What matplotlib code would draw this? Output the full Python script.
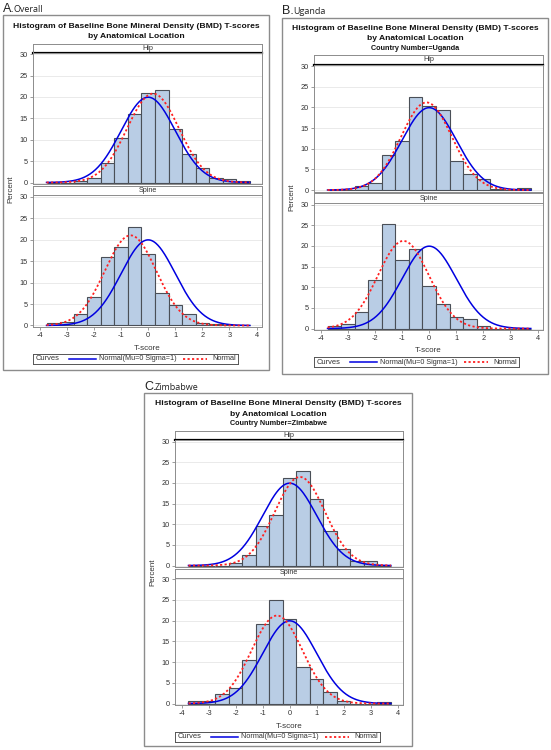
import numpy as np
import matplotlib
matplotlib.use("Agg")
import matplotlib.pyplot as plt
from matplotlib.patches import Rectangle

plt.rcParams['font.family'] = ['Liberation Sans', 'DejaVu Sans']
plt.rcParams['axes.unicode_minus'] = False

# ---------------- data ----------------
bin_centers = [-3.5, -3.0, -2.5, -2.0, -1.5, -1.0, -0.5, 0.0, 0.5, 1.0, 1.5, 2.0, 2.5, 3.0, 3.5]
bin_width = 0.5
x_ticks = [-4, -3, -2, -1, 0, 1, 2, 3, 4]
y_ticks = [0, 5, 10, 15, 20, 25, 30]

overall_hip = [0, 0, 0.3, 1.0, 4.5, 10.3, 16.0, 20.9, 21.7, 12.6, 6.6, 3.4, 1.0, 0.8, 0.3]
overall_spine = [0.5, 0.8, 2.7, 6.6, 15.9, 18.2, 22.9, 16.6, 7.6, 4.7, 2.6, 0.6, 0.3, 0.1, 0.2]
uganda_hip = [0, 0, 1.1, 1.8, 8.5, 11.8, 22.5, 20.4, 19.3, 7.0, 3.8, 2.7, 0.3, 0, 0.6]
uganda_spine = [0.6, 1.2, 3.9, 11.8, 25.3, 16.7, 19.3, 10.3, 6.0, 2.7, 2.2, 0.7, 0, 0, 0]
zimbabwe_hip = [0, 0, 0, 0.6, 2.6, 9.6, 12.3, 21.1, 23.0, 16.0, 8.4, 4.1, 1.2, 1.2, 0]
zimbabwe_spine = [0.6, 0.5, 2.2, 3.7, 10.5, 19.1, 24.9, 20.3, 8.7, 6.0, 2.9, 0.5, 0, 0, 0.3]

# fitted normal (mu, sigma) for the red dashed curve
overall_hip_fit = (0.18, 0.96)
overall_spine_fit = (-0.65, 0.95)
uganda_hip_fit = (-0.10, 0.94)
uganda_spine_fit = (-0.95, 0.94)
zimbabwe_hip_fit = (0.38, 0.93)
zimbabwe_spine_fit = (-0.47, 0.94)
reference_fit = (0.0, 1.0)

title_line1 = "Histogram of Baseline Bone Mineral Density (BMD) T-scores"
title_line2 = "by Anatomical Location"
strip_labels = ["Hip", "Spine"]
legend_title = "Curves"
legend_labels = ["Normal(Mu=0 Sigma=1)", "Normal"]

# ---------------- layout ----------------
W, H = 551, 750
fig = plt.figure(figsize=(W / 100, H / 100), dpi=100)

BAR_FC = '#b9cde5'
BAR_EC = '#4a4f57'
BLUE = '#0000e0'
RED = '#ff2020'
GRAY = '#8c8c8c'
TXT = '#333333'


def fx(x):
    return x / W


def fy(y):
    return 1 - y / H


def add_ax(l, t, r, b):
    return fig.add_axes([l / W, 1 - b / H, (r - l) / W, (b - t) / H])


def frect(l, t, r, b, **kw):
    fig.patches.append(Rectangle((fx(l), fy(b)), (r - l) / W, (b - t) / H,
                                 transform=fig.transFigure, **kw))


def normal_pct(x, mu, sd):
    return 100 * bin_width * np.exp(-0.5 * ((x - mu) / sd) ** 2) / (sd * np.sqrt(2 * np.pi))


def hist_axes(l, t, r, b, values, fit, show_x):
    ax = add_ax(l, t, r, b)
    ax.bar(bin_centers, values, width=bin_width, color=BAR_FC, edgecolor=BAR_EC,
           linewidth=0.8, zorder=2)
    xs = np.linspace(-3.75, 3.75, 300)
    ax.plot(xs, normal_pct(xs, *reference_fit), color=BLUE, lw=1.1, zorder=3)
    ax.plot(xs, normal_pct(xs, *fit), color=RED, lw=1.3, ls=(0, (1.2, 1.3)), zorder=4)
    ax.set_xlim(-4.25, 4.2)
    ax.set_ylim(-0.35, 30.4)
    ax.set_yticks(y_ticks)
    ax.set_xticks(x_ticks)
    ax.yaxis.grid(True, color='#e6e6e6', lw=0.6, zorder=0)
    ax.set_axisbelow(True)
    for s in ax.spines.values():
        s.set_color(GRAY)
        s.set_linewidth(0.7)
    ax.tick_params(axis='both', labelsize=5.3, colors=GRAY, labelcolor=TXT,
                   length=2.2, width=0.6, pad=1.5)
    if not show_x:
        ax.tick_params(axis='x', bottom=False, labelbottom=False)
    return ax


def strip(l, t, r, b, label, thick):
    ax = add_ax(l, t, r, b)
    ax.set_xticks([])
    ax.set_yticks([])
    for s in ax.spines.values():
        s.set_color(GRAY)
        s.set_linewidth(0.7)
    if thick:
        ax.spines['bottom'].set_color('black')
        ax.spines['bottom'].set_linewidth(1.6)
    ax.text(0.5, 0.5, label, ha='center', va='center', fontsize=5.2, color=TXT,
            transform=ax.transAxes)


def legend_box(l, t, r, b):
    ax = add_ax(l, t, r, b)
    ax.set_xlim(l, r)
    ax.set_ylim(b, t)
    ax.set_xticks([])
    ax.set_yticks([])
    for s in ax.spines.values():
        s.set_color('#555555')
        s.set_linewidth(0.7)
    ym = (t + b) / 2
    ax.text(l + 3, ym, legend_title, ha='left', va='center', fontsize=5.4, color=TXT)
    ax.plot([l + 36, l + 63], [ym, ym], color=BLUE, lw=1.1)
    ax.text(l + 66, ym, legend_labels[0], ha='left', va='center', fontsize=5.2, color=TXT)
    ax.plot([l + 150, l + 174], [ym, ym], color=RED, lw=1.3, ls=(0, (1.2, 1.3)))
    ax.text(l + 179, ym, legend_labels[1], ha='left', va='center', fontsize=5.3, color=TXT)


def panel(box, letter, name, country, px, hip_v, hip_f, spine_v, spine_f):
    bl, bt, br, bb = box
    frect(bl, bt, br, bb, fill=False, edgecolor=GRAY, lw=1.0)
    fig.text(fx(bl), fy(bt - 6.5), letter, fontsize=9, ha='left', va='center', color='#222222')
    fig.text(fx(bl + 11), fy(bt - 6), name, fontsize=6.5, ha='left', va='center',
             color='#222222', family=['Open Sans', 'DejaVu Sans'])
    cx = (bl + br) / 2
    fig.text(fx(cx), fy(bt + 11), title_line1, fontsize=6.1, weight='bold', ha='center',
             va='center', color='#111111')
    fig.text(fx(cx), fy(bt + 21), title_line2, fontsize=6.1, weight='bold', ha='center',
             va='center', color='#111111')
    if country:
        fig.text(fx(cx), fy(bt + 30.5), country, fontsize=5.2, weight='bold', ha='center',
                 va='center', color='#111111')
    l, r = px['l'], px['r']
    strip(l, px['hs_t'], r, px['hs_b'], strip_labels[0], True)
    hist_axes(l, px['hs_b'], r, px['h_b'], hip_v, hip_f, False)
    strip(l, px['ss_t'], r, px['ss_b'], strip_labels[1], False)
    hist_axes(l, px['ss_b'], r, px['s_b'], spine_v, spine_f, True)
    fig.text(fx((l + r) / 2), fy(px['s_b'] + 21), "T-score", fontsize=5.8, ha='center',
             va='center', color=TXT)
    fig.text(fx(l - 22), fy((px['h_b'] + px['ss_b']) / 2), "Percent", fontsize=5.8,
             rotation=90, ha='center', va='center', color=TXT)
    legend_box(l, px['s_b'] + 27, l + 205, px['s_b'] + 37)


panel((3, 15, 269, 370), "A.", "Overall", None,
      dict(l=33, r=262, hs_t=44, hs_b=52.5, h_b=184, ss_t=186, ss_b=195, s_b=327),
      overall_hip, overall_hip_fit, overall_spine, overall_spine_fit)

panel((282, 18, 548, 374), "B.", "Uganda", "Country Number=Uganda",
      dict(l=314, r=543, hs_t=55, hs_b=64.5, h_b=191.5, ss_t=193.5, ss_b=203, s_b=330),
      uganda_hip, uganda_hip_fit, uganda_spine, uganda_spine_fit)

panel((144, 393, 412, 746), "C.", "Zimbabwe", "Country Number=Zimbabwe",
      dict(l=175, r=403, hs_t=431, hs_b=440, h_b=567, ss_t=568.5, ss_b=577.5, s_b=705),
      zimbabwe_hip, zimbabwe_hip_fit, zimbabwe_spine, zimbabwe_spine_fit)

fig.savefig("out.png", dpi=100)
